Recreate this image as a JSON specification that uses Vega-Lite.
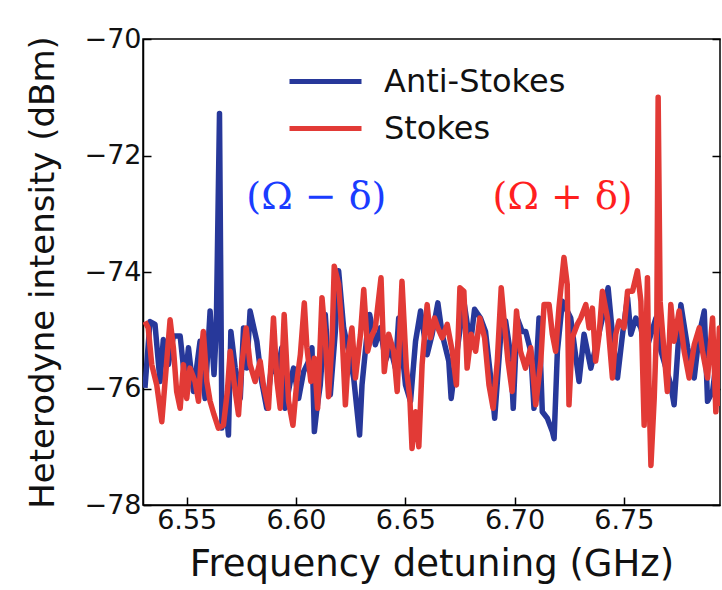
{
  "$schema": "https://vega.github.io/schema/vega-lite/v6.json",
  "width": 577,
  "height": 466,
  "autosize": {"type": "none"},
  "padding": {"left": 143, "top": 39, "right": 2, "bottom": 85},
  "background": "white",
  "config": {
    "font": "DejaVu Sans",
    "view": {"stroke": "black", "strokeWidth": 1.5},
    "axis": {
      "domainColor": "black", "domainWidth": 1.5, "tickColor": "black", "tickWidth": 1.5,
      "tickSize": -8, "grid": false, "labelFont": "DejaVu Sans", "labelFontSize": 27,
      "labelColor": "#111", "titleFont": "DejaVu Sans", "titleFontSize": 35,
      "titleFontWeight": "normal", "titleColor": "#111"
    }
  },
  "datasets": {
    "spec": [
      {"f":6.5309,"v":-75.99,"s":"Anti-Stokes"},{"f":6.5332,"v":-74.85,"s":"Anti-Stokes"},{"f":6.5355,"v":-74.90,"s":"Anti-Stokes"},{"f":6.5378,"v":-75.88,"s":"Anti-Stokes"},{"f":6.5393,"v":-75.16,"s":"Anti-Stokes"},{"f":6.5416,"v":-75.59,"s":"Anti-Stokes"},{"f":6.5439,"v":-75.10,"s":"Anti-Stokes"},{"f":6.5470,"v":-75.10,"s":"Anti-Stokes"},{"f":6.5492,"v":-75.88,"s":"Anti-Stokes"},{"f":6.5508,"v":-75.30,"s":"Anti-Stokes"},{"f":6.5531,"v":-76.05,"s":"Anti-Stokes"},{"f":6.5561,"v":-75.19,"s":"Anti-Stokes"},{"f":6.5584,"v":-76.17,"s":"Anti-Stokes"},{"f":6.5607,"v":-74.67,"s":"Anti-Stokes"},{"f":6.5625,"v":-75.76,"s":"Anti-Stokes"},{"f":6.5635,"v":-75.02,"s":"Anti-Stokes"},{"f":6.5650,"v":-71.28,"s":"Anti-Stokes"},{"f":6.5661,"v":-76.68,"s":"Anti-Stokes"},{"f":6.5676,"v":-76.17,"s":"Anti-Stokes"},{"f":6.5691,"v":-76.80,"s":"Anti-Stokes"},{"f":6.5702,"v":-75.02,"s":"Anti-Stokes"},{"f":6.5722,"v":-75.65,"s":"Anti-Stokes"},{"f":6.5745,"v":-76.17,"s":"Anti-Stokes"},{"f":6.5760,"v":-74.96,"s":"Anti-Stokes"},{"f":6.5775,"v":-75.65,"s":"Anti-Stokes"},{"f":6.5790,"v":-74.67,"s":"Anti-Stokes"},{"f":6.5821,"v":-75.19,"s":"Anti-Stokes"},{"f":6.5843,"v":-75.88,"s":"Anti-Stokes"},{"f":6.5866,"v":-76.34,"s":"Anti-Stokes"},{"f":6.5889,"v":-75.59,"s":"Anti-Stokes"},{"f":6.5913,"v":-75.76,"s":"Anti-Stokes"},{"f":6.5935,"v":-75.30,"s":"Anti-Stokes"},{"f":6.5951,"v":-76.34,"s":"Anti-Stokes"},{"f":6.5974,"v":-75.88,"s":"Anti-Stokes"},{"f":6.5989,"v":-75.65,"s":"Anti-Stokes"},{"f":6.6012,"v":-76.17,"s":"Anti-Stokes"},{"f":6.6035,"v":-75.71,"s":"Anti-Stokes"},{"f":6.6058,"v":-75.53,"s":"Anti-Stokes"},{"f":6.6073,"v":-75.30,"s":"Anti-Stokes"},{"f":6.6084,"v":-76.74,"s":"Anti-Stokes"},{"f":6.6096,"v":-76.34,"s":"Anti-Stokes"},{"f":6.6111,"v":-75.94,"s":"Anti-Stokes"},{"f":6.6134,"v":-74.73,"s":"Anti-Stokes"},{"f":6.6157,"v":-76.11,"s":"Anti-Stokes"},{"f":6.6180,"v":-75.02,"s":"Anti-Stokes"},{"f":6.6195,"v":-73.98,"s":"Anti-Stokes"},{"f":6.6218,"v":-74.96,"s":"Anti-Stokes"},{"f":6.6241,"v":-75.36,"s":"Anti-Stokes"},{"f":6.6264,"v":-75.82,"s":"Anti-Stokes"},{"f":6.6291,"v":-76.80,"s":"Anti-Stokes"},{"f":6.6302,"v":-75.94,"s":"Anti-Stokes"},{"f":6.6325,"v":-75.07,"s":"Anti-Stokes"},{"f":6.6337,"v":-74.73,"s":"Anti-Stokes"},{"f":6.6363,"v":-75.25,"s":"Anti-Stokes"},{"f":6.6386,"v":-74.96,"s":"Anti-Stokes"},{"f":6.6409,"v":-75.53,"s":"Anti-Stokes"},{"f":6.6432,"v":-75.30,"s":"Anti-Stokes"},{"f":6.6455,"v":-75.65,"s":"Anti-Stokes"},{"f":6.6470,"v":-74.79,"s":"Anti-Stokes"},{"f":6.6501,"v":-75.94,"s":"Anti-Stokes"},{"f":6.6524,"v":-76.22,"s":"Anti-Stokes"},{"f":6.6547,"v":-75.19,"s":"Anti-Stokes"},{"f":6.6570,"v":-74.67,"s":"Anti-Stokes"},{"f":6.6600,"v":-75.42,"s":"Anti-Stokes"},{"f":6.6623,"v":-75.07,"s":"Anti-Stokes"},{"f":6.6649,"v":-74.53,"s":"Anti-Stokes"},{"f":6.6669,"v":-75.07,"s":"Anti-Stokes"},{"f":6.6699,"v":-75.53,"s":"Anti-Stokes"},{"f":6.6710,"v":-76.17,"s":"Anti-Stokes"},{"f":6.6737,"v":-75.36,"s":"Anti-Stokes"},{"f":6.6768,"v":-74.50,"s":"Anti-Stokes"},{"f":6.6798,"v":-75.25,"s":"Anti-Stokes"},{"f":6.6817,"v":-74.64,"s":"Anti-Stokes"},{"f":6.6844,"v":-74.79,"s":"Anti-Stokes"},{"f":6.6867,"v":-75.02,"s":"Anti-Stokes"},{"f":6.6898,"v":-76.05,"s":"Anti-Stokes"},{"f":6.6909,"v":-76.51,"s":"Anti-Stokes"},{"f":6.6936,"v":-75.13,"s":"Anti-Stokes"},{"f":6.6959,"v":-74.84,"s":"Anti-Stokes"},{"f":6.6982,"v":-75.42,"s":"Anti-Stokes"},{"f":6.6994,"v":-76.34,"s":"Anti-Stokes"},{"f":6.7012,"v":-74.79,"s":"Anti-Stokes"},{"f":6.7035,"v":-75.02,"s":"Anti-Stokes"},{"f":6.7051,"v":-75.02,"s":"Anti-Stokes"},{"f":6.7074,"v":-75.36,"s":"Anti-Stokes"},{"f":6.7089,"v":-76.34,"s":"Anti-Stokes"},{"f":6.7112,"v":-74.79,"s":"Anti-Stokes"},{"f":6.7127,"v":-76.40,"s":"Anti-Stokes"},{"f":6.7150,"v":-76.51,"s":"Anti-Stokes"},{"f":6.7173,"v":-76.74,"s":"Anti-Stokes"},{"f":6.7181,"v":-76.86,"s":"Anti-Stokes"},{"f":6.7196,"v":-75.36,"s":"Anti-Stokes"},{"f":6.7219,"v":-74.50,"s":"Anti-Stokes"},{"f":6.7257,"v":-74.79,"s":"Anti-Stokes"},{"f":6.7295,"v":-75.88,"s":"Anti-Stokes"},{"f":6.7318,"v":-75.07,"s":"Anti-Stokes"},{"f":6.7349,"v":-75.65,"s":"Anti-Stokes"},{"f":6.7371,"v":-75.30,"s":"Anti-Stokes"},{"f":6.7402,"v":-74.79,"s":"Anti-Stokes"},{"f":6.7428,"v":-74.27,"s":"Anti-Stokes"},{"f":6.7448,"v":-75.07,"s":"Anti-Stokes"},{"f":6.7471,"v":-75.82,"s":"Anti-Stokes"},{"f":6.7494,"v":-75.07,"s":"Anti-Stokes"},{"f":6.7517,"v":-74.44,"s":"Anti-Stokes"},{"f":6.7532,"v":-75.07,"s":"Anti-Stokes"},{"f":6.7555,"v":-74.79,"s":"Anti-Stokes"},{"f":6.7578,"v":-74.96,"s":"Anti-Stokes"},{"f":6.7601,"v":-75.36,"s":"Anti-Stokes"},{"f":6.7624,"v":-75.07,"s":"Anti-Stokes"},{"f":6.7647,"v":-74.79,"s":"Anti-Stokes"},{"f":6.7670,"v":-75.36,"s":"Anti-Stokes"},{"f":6.7693,"v":-75.65,"s":"Anti-Stokes"},{"f":6.7715,"v":-75.94,"s":"Anti-Stokes"},{"f":6.7730,"v":-76.28,"s":"Anti-Stokes"},{"f":6.7761,"v":-74.56,"s":"Anti-Stokes"},{"f":6.7792,"v":-75.30,"s":"Anti-Stokes"},{"f":6.7822,"v":-75.82,"s":"Anti-Stokes"},{"f":6.7845,"v":-75.07,"s":"Anti-Stokes"},{"f":6.7868,"v":-74.67,"s":"Anti-Stokes"},{"f":6.7883,"v":-76.22,"s":"Anti-Stokes"},{"f":6.7906,"v":-76.05,"s":"Anti-Stokes"},{"f":6.7929,"v":-75.36,"s":"Anti-Stokes"},{"f":6.7940,"v":-75.60,"s":"Anti-Stokes"},
      {"f":6.5309,"v":-74.85,"s":"Stokes"},{"f":6.5324,"v":-74.96,"s":"Stokes"},{"f":6.5340,"v":-75.59,"s":"Stokes"},{"f":6.5363,"v":-75.94,"s":"Stokes"},{"f":6.5386,"v":-76.57,"s":"Stokes"},{"f":6.5401,"v":-75.88,"s":"Stokes"},{"f":6.5424,"v":-74.82,"s":"Stokes"},{"f":6.5439,"v":-75.30,"s":"Stokes"},{"f":6.5454,"v":-76.05,"s":"Stokes"},{"f":6.5470,"v":-76.34,"s":"Stokes"},{"f":6.5485,"v":-75.59,"s":"Stokes"},{"f":6.5500,"v":-76.17,"s":"Stokes"},{"f":6.5515,"v":-75.65,"s":"Stokes"},{"f":6.5538,"v":-75.88,"s":"Stokes"},{"f":6.5554,"v":-76.22,"s":"Stokes"},{"f":6.5569,"v":-75.30,"s":"Stokes"},{"f":6.5576,"v":-75.02,"s":"Stokes"},{"f":6.5592,"v":-75.88,"s":"Stokes"},{"f":6.5607,"v":-76.22,"s":"Stokes"},{"f":6.5625,"v":-76.45,"s":"Stokes"},{"f":6.5645,"v":-76.68,"s":"Stokes"},{"f":6.5668,"v":-76.63,"s":"Stokes"},{"f":6.5686,"v":-76.05,"s":"Stokes"},{"f":6.5699,"v":-75.36,"s":"Stokes"},{"f":6.5722,"v":-76.05,"s":"Stokes"},{"f":6.5737,"v":-76.45,"s":"Stokes"},{"f":6.5752,"v":-75.59,"s":"Stokes"},{"f":6.5772,"v":-74.96,"s":"Stokes"},{"f":6.5790,"v":-75.59,"s":"Stokes"},{"f":6.5813,"v":-75.88,"s":"Stokes"},{"f":6.5836,"v":-75.53,"s":"Stokes"},{"f":6.5851,"v":-75.94,"s":"Stokes"},{"f":6.5874,"v":-76.34,"s":"Stokes"},{"f":6.5897,"v":-74.79,"s":"Stokes"},{"f":6.5913,"v":-75.88,"s":"Stokes"},{"f":6.5928,"v":-76.34,"s":"Stokes"},{"f":6.5946,"v":-74.73,"s":"Stokes"},{"f":6.5966,"v":-76.22,"s":"Stokes"},{"f":6.5986,"v":-76.63,"s":"Stokes"},{"f":6.6004,"v":-75.88,"s":"Stokes"},{"f":6.6020,"v":-75.42,"s":"Stokes"},{"f":6.6038,"v":-74.53,"s":"Stokes"},{"f":6.6050,"v":-75.30,"s":"Stokes"},{"f":6.6068,"v":-75.88,"s":"Stokes"},{"f":6.6084,"v":-75.48,"s":"Stokes"},{"f":6.6099,"v":-76.34,"s":"Stokes"},{"f":6.6119,"v":-74.44,"s":"Stokes"},{"f":6.6134,"v":-75.13,"s":"Stokes"},{"f":6.6149,"v":-76.14,"s":"Stokes"},{"f":6.6165,"v":-75.19,"s":"Stokes"},{"f":6.6175,"v":-73.90,"s":"Stokes"},{"f":6.6195,"v":-74.21,"s":"Stokes"},{"f":6.6211,"v":-75.07,"s":"Stokes"},{"f":6.6226,"v":-76.28,"s":"Stokes"},{"f":6.6241,"v":-75.36,"s":"Stokes"},{"f":6.6256,"v":-74.96,"s":"Stokes"},{"f":6.6272,"v":-75.82,"s":"Stokes"},{"f":6.6295,"v":-75.07,"s":"Stokes"},{"f":6.6310,"v":-74.30,"s":"Stokes"},{"f":6.6328,"v":-75.36,"s":"Stokes"},{"f":6.6343,"v":-75.13,"s":"Stokes"},{"f":6.6363,"v":-74.96,"s":"Stokes"},{"f":6.6389,"v":-74.10,"s":"Stokes"},{"f":6.6404,"v":-75.71,"s":"Stokes"},{"f":6.6424,"v":-75.07,"s":"Stokes"},{"f":6.6447,"v":-75.36,"s":"Stokes"},{"f":6.6463,"v":-76.05,"s":"Stokes"},{"f":6.6485,"v":-74.16,"s":"Stokes"},{"f":6.6505,"v":-75.65,"s":"Stokes"},{"f":6.6521,"v":-76.17,"s":"Stokes"},{"f":6.6531,"v":-77.03,"s":"Stokes"},{"f":6.6547,"v":-76.40,"s":"Stokes"},{"f":6.6562,"v":-77.00,"s":"Stokes"},{"f":6.6577,"v":-75.59,"s":"Stokes"},{"f":6.6600,"v":-74.56,"s":"Stokes"},{"f":6.6615,"v":-75.13,"s":"Stokes"},{"f":6.6634,"v":-74.79,"s":"Stokes"},{"f":6.6649,"v":-74.96,"s":"Stokes"},{"f":6.6669,"v":-75.13,"s":"Stokes"},{"f":6.6692,"v":-74.90,"s":"Stokes"},{"f":6.6715,"v":-75.36,"s":"Stokes"},{"f":6.6734,"v":-75.94,"s":"Stokes"},{"f":6.6750,"v":-74.27,"s":"Stokes"},{"f":6.6768,"v":-74.33,"s":"Stokes"},{"f":6.6783,"v":-75.65,"s":"Stokes"},{"f":6.6802,"v":-75.07,"s":"Stokes"},{"f":6.6822,"v":-75.36,"s":"Stokes"},{"f":6.6841,"v":-74.79,"s":"Stokes"},{"f":6.6863,"v":-75.13,"s":"Stokes"},{"f":6.6883,"v":-75.94,"s":"Stokes"},{"f":6.6902,"v":-76.34,"s":"Stokes"},{"f":6.6921,"v":-75.53,"s":"Stokes"},{"f":6.6939,"v":-74.27,"s":"Stokes"},{"f":6.6954,"v":-74.90,"s":"Stokes"},{"f":6.6970,"v":-75.53,"s":"Stokes"},{"f":6.6989,"v":-76.05,"s":"Stokes"},{"f":6.7009,"v":-74.67,"s":"Stokes"},{"f":6.7027,"v":-75.36,"s":"Stokes"},{"f":6.7050,"v":-75.65,"s":"Stokes"},{"f":6.7074,"v":-75.30,"s":"Stokes"},{"f":6.7097,"v":-76.28,"s":"Stokes"},{"f":6.7120,"v":-75.53,"s":"Stokes"},{"f":6.7135,"v":-74.56,"s":"Stokes"},{"f":6.7158,"v":-74.56,"s":"Stokes"},{"f":6.7173,"v":-75.07,"s":"Stokes"},{"f":6.7188,"v":-75.36,"s":"Stokes"},{"f":6.7203,"v":-74.62,"s":"Stokes"},{"f":6.7226,"v":-73.75,"s":"Stokes"},{"f":6.7241,"v":-74.21,"s":"Stokes"},{"f":6.7249,"v":-76.28,"s":"Stokes"},{"f":6.7264,"v":-75.13,"s":"Stokes"},{"f":6.7287,"v":-74.90,"s":"Stokes"},{"f":6.7303,"v":-74.79,"s":"Stokes"},{"f":6.7326,"v":-74.56,"s":"Stokes"},{"f":6.7341,"v":-74.96,"s":"Stokes"},{"f":6.7356,"v":-74.62,"s":"Stokes"},{"f":6.7371,"v":-75.53,"s":"Stokes"},{"f":6.7387,"v":-75.07,"s":"Stokes"},{"f":6.7402,"v":-74.33,"s":"Stokes"},{"f":6.7425,"v":-74.79,"s":"Stokes"},{"f":6.7448,"v":-75.82,"s":"Stokes"},{"f":6.7463,"v":-75.07,"s":"Stokes"},{"f":6.7478,"v":-74.84,"s":"Stokes"},{"f":6.7501,"v":-74.96,"s":"Stokes"},{"f":6.7517,"v":-74.33,"s":"Stokes"},{"f":6.7540,"v":-74.33,"s":"Stokes"},{"f":6.7562,"v":-73.98,"s":"Stokes"},{"f":6.7578,"v":-74.50,"s":"Stokes"},{"f":6.7593,"v":-76.63,"s":"Stokes"},{"f":6.7608,"v":-74.10,"s":"Stokes"},{"f":6.7616,"v":-76.17,"s":"Stokes"},{"f":6.7624,"v":-77.32,"s":"Stokes"},{"f":6.7639,"v":-76.17,"s":"Stokes"},{"f":6.7651,"v":-74.79,"s":"Stokes"},{"f":6.7657,"v":-71.00,"s":"Stokes"},{"f":6.7666,"v":-74.50,"s":"Stokes"},{"f":6.7684,"v":-75.36,"s":"Stokes"},{"f":6.7699,"v":-76.05,"s":"Stokes"},{"f":6.7715,"v":-74.56,"s":"Stokes"},{"f":6.7730,"v":-75.19,"s":"Stokes"},{"f":6.7753,"v":-74.67,"s":"Stokes"},{"f":6.7776,"v":-75.36,"s":"Stokes"},{"f":6.7799,"v":-75.82,"s":"Stokes"},{"f":6.7822,"v":-75.25,"s":"Stokes"},{"f":6.7845,"v":-74.96,"s":"Stokes"},{"f":6.7860,"v":-75.36,"s":"Stokes"},{"f":6.7883,"v":-75.82,"s":"Stokes"},{"f":6.7906,"v":-74.79,"s":"Stokes"},{"f":6.7921,"v":-76.40,"s":"Stokes"},{"f":6.7937,"v":-74.96,"s":"Stokes"},{"f":6.7940,"v":-76.30,"s":"Stokes"}
    ],
    "notes": [
      {"f": 6.6093, "v": -72.73, "t": "(Ω − δ)", "k": "minus"},
      {"f": 6.7220, "v": -72.73, "t": "(Ω + δ)", "k": "plus"}
    ]
  },
  "layer": [
    {
      "data": {"name": "spec"},
      "mark": {"type": "line", "strokeWidth": 5.5, "strokeJoin": "round", "clip": true},
      "encoding": {
        "x": {"field": "f", "type": "quantitative",
              "scale": {"domain": [6.53, 6.794], "nice": false, "zero": false},
              "axis": {"values": [6.55, 6.6, 6.65, 6.7, 6.75], "format": ".2f", "title": "Frequency detuning (GHz)", "titleFontSize": 37, "labelPadding": 10, "titlePadding": 13}},
        "y": {"field": "v", "type": "quantitative",
              "scale": {"domain": [-78, -70], "nice": false, "zero": false},
              "axis": {"orient": "left", "values": [-78, -76, -74, -72, -70], "format": "d", "title": "Heterodyne intensity (dBm)", "titleFontSize": 34, "titleLimit": 700, "labelPadding": 10, "titlePadding": 24}},
        "color": {"field": "s", "type": "nominal",
                  "scale": {"domain": ["Anti-Stokes", "Stokes"], "range": ["#27389a", "#e23a36"]},
                  "legend": {"orient": "none", "legendX": 162, "legendY": 22, "title": null,
                             "symbolType": "M-2,0H2", "symbolSize": 1296, "symbolStrokeWidth": 5,
                             "labelFontSize": 32, "labelFont": "DejaVu Sans", "labelColor": "#111", "labelLimit": 0,
                             "labelOffset": 38, "padding": 0, "rowPadding": 10}}
      }
    },
    {
      "data": {"name": "notes"},
      "transform": [{"filter": "datum.k === 'minus'"}],
      "mark": {"type": "text", "font": "DejaVu Serif", "fontSize": 38, "color": "#1a3cff", "baseline": "middle", "align": "center"},
      "encoding": {
        "x": {"field": "f", "type": "quantitative"},
        "y": {"field": "v", "type": "quantitative",
              "axis": {"orient": "right", "values": [-78, -76, -74, -72, -70], "labels": false, "title": null, "domain": false}},
        "text": {"field": "t"}
      }
    },
    {
      "data": {"name": "notes"},
      "transform": [{"filter": "datum.k === 'plus'"}],
      "mark": {"type": "text", "font": "DejaVu Serif", "fontSize": 38, "color": "#ff1f1f", "baseline": "middle", "align": "center"},
      "encoding": {
        "x": {"field": "f", "type": "quantitative"},
        "y": {"field": "v", "type": "quantitative", "axis": null},
        "text": {"field": "t"}
      }
    }
  ],
  "resolve": {"axis": {"y": "independent"}}
}
